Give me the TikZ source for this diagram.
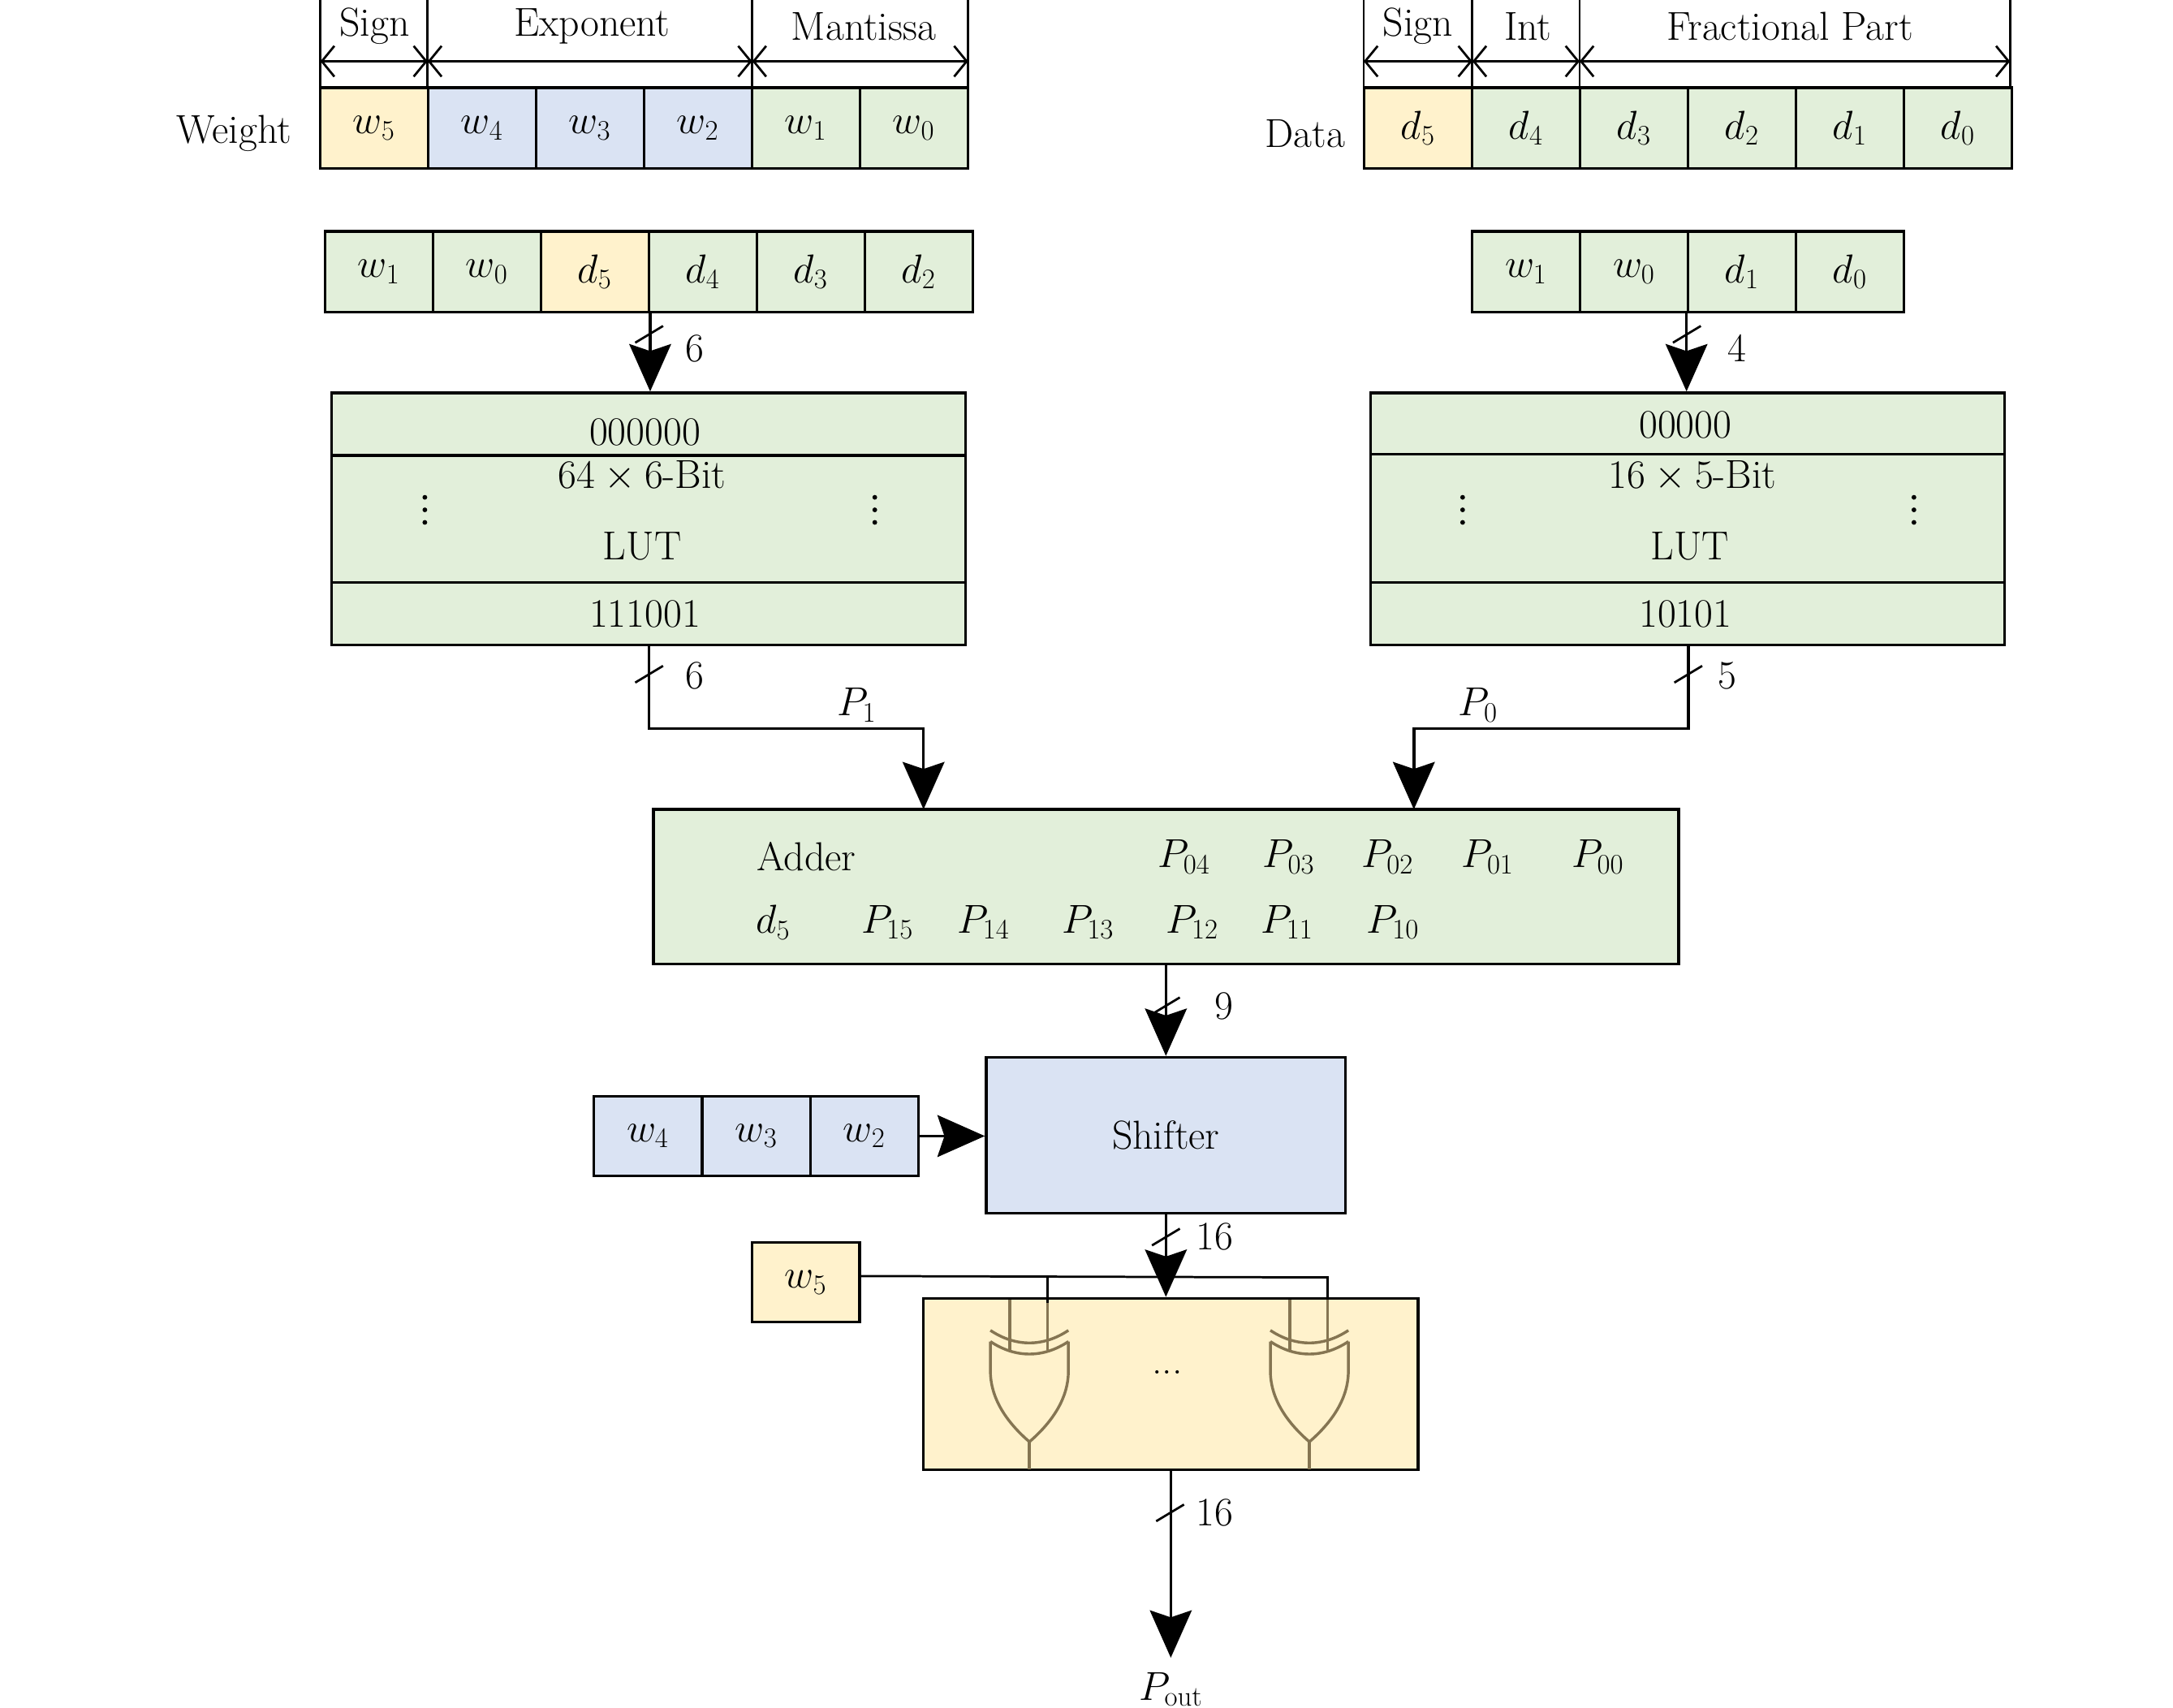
\documentclass[tikz,border=0pt]{standalone}
\usepackage{fix-cm}
\usetikzlibrary{arrows.meta}
\definecolor{cy}{HTML}{FFF2CC}
\definecolor{cb}{HTML}{DAE3F3}
\definecolor{cg}{HTML}{E2EFDA}
\definecolor{gate}{HTML}{857552}
\begin{document}
\begin{tikzpicture}[x=1pt,y=-1pt,
  every node/.style={font=\fontsize{29}{34}\selectfont},
  cell/.style={draw,line width=2pt,minimum height=58pt,minimum width=77.5pt,inner sep=0pt},
  box/.style={draw,line width=2pt,inner sep=0pt},
  big/.style={line width=2pt,-{Stealth[length=34pt,width=30pt,inset=5pt]}},
  dim/.style={line width=1.6pt,{Straight Barb[length=9pt,width=22pt]}-{Straight Barb[length=9pt,width=22pt]}},
  sl/.style={line width=1.6pt},
  gl/.style={draw=gate,line width=2pt}]
\useasboundingbox (0,0) rectangle (1560,1226);
\newcommand{\vdts}[2]{\foreach \dy in {-9,0,9}{\fill (#1,#2+\dy) circle (1.7pt);}}
% ---------- weight word
\node[cell,fill=cy] (w5) at (268.5,92) {$w_5$};
\node[cell,fill=cb] (w4) at (346,92) {$w_4$};
\node[cell,fill=cb] (w3) at (423.5,92) {$w_3$};
\node[cell,fill=cb] (w2) at (501,92) {$w_2$};
\node[cell,fill=cg] (w1) at (578.5,92) {$w_1$};
\node[cell,fill=cg] (w0) at (656,92) {$w_0$};
\node (wl) at (168,96) {Weight};
\foreach \x/\n in {230/a,307/b,540/c,695/d}{\draw[line width=1.6pt] (\x,63) -- (\x,0); \coordinate (h\n) at (\x,44);}
\draw[dim] (ha) -- (hb); \draw[dim] (hb) -- (hc); \draw[dim] (hc) -- (hd);
\node (ts) at (269,19) {Sign};
\node (te) at (425,19) {Exponent};
\node (tm) at (620,19) {Mantissa};
% ---------- data word
\node[cell,fill=cy] (d5) at (1018,92) {$d_5$};
\node[cell,fill=cg] (d4) at (1095.5,92) {$d_4$};
\node[cell,fill=cg] (d3) at (1173,92) {$d_3$};
\node[cell,fill=cg] (d2) at (1250.5,92) {$d_2$};
\node[cell,fill=cg] (d1) at (1328,92) {$d_1$};
\node[cell,fill=cg] (d0) at (1405.5,92) {$d_0$};
\node (dl) at (937,96) {Data};
\foreach \x/\n in {979/a,1057/b,1134/c,1443/d}{\draw[line width=1.6pt] (\x,63) -- (\x,0); \coordinate (k\n) at (\x,44);}
\draw[dim] (ka) -- (kb); \draw[dim] (kb) -- (kc); \draw[dim] (kc) -- (kd);
\node (us) at (1018,19) {Sign};
\node (ui) at (1097,19) {Int};
\node (uf) at (1285,19) {Fractional Part};
% ---------- left address
\node[cell,fill=cg] (a1) at (272,195) {$w_1$};
\node[cell,fill=cg] (a2) at (349.5,195) {$w_0$};
\node[cell,fill=cy] (a3) at (427,195) {$d_5$};
\node[cell,fill=cg] (a4) at (504.5,195) {$d_4$};
\node[cell,fill=cg] (a5) at (582,195) {$d_3$};
\node[cell,fill=cg] (a6) at (659.5,195) {$d_2$};
% ---------- right address
\node[cell,fill=cg] (b1) at (1095.5,195) {$w_1$};
\node[cell,fill=cg] (b2) at (1173,195) {$w_0$};
\node[cell,fill=cg] (b3) at (1250.5,195) {$d_1$};
\node[cell,fill=cg] (b4) at (1328,195) {$d_0$};
% ---------- LUTs
\node[box,fill=cg,minimum width=455pt,minimum height=181pt] (lutL) at (465.5,372.5) {};
\draw[line width=2pt] (238,327) -- (693,327) (238,418) -- (693,418);
\node at (463,310) {000000};
\node at (461,342) {$64\times6$-Bit};
\node at (461,392) {LUT};
\vdts{305}{366} \vdts{628}{366}
\node at (463,441) {111001};
\node[box,fill=cg,minimum width=455pt,minimum height=181pt] (lutR) at (1211.5,372.5) {};
\draw[line width=2pt] (984,326) -- (1439,326) (984,418) -- (1439,418);
\node at (1210,305) {00000};
\node at (1215,342) {$16\times5$-Bit};
\node at (1213,392) {LUT};
\vdts{1050}{366} \vdts{1374}{366}
\node at (1210,441) {10101};
\draw[big] (a3.south east) -- (a3.south east |- lutL.north);
\draw[sl] (456,246) -- (476,234); \node at (499,250) {6};
\draw[big] (b3.south west) -- (b3.south west |- lutR.north);
\draw[sl] (1201,246) -- (1221,234); \node at (1247,250) {4};
% ---------- adder
\node[box,fill=cg,minimum width=736pt,minimum height=111pt] (add) at (837,636.5) {};
\coordinate (cl) at (466,523); \coordinate (cr) at (1212,523);
\draw[big] (lutL.south) ++(0.5,0) -- (cl) -| (663,581);
\draw[big] (lutR.south) ++(0.5,0) -- (cr) -| (1015,581);
\draw[sl] (456,490) -- (476,478); \node at (499,485) {6};
\draw[sl] (1202,490) -- (1222,478); \node at (1240,485) {5};
\node at (615,506) {$P_1$};
\node at (1061,506) {$P_0$};
\node at (579,615) {Adder};
\foreach \x/\t in {850/04,925/03,996/02,1068/01,1147/00}{\node at (\x,615) {$P_{\t}$};}
\node at (555,662) {$d_5$};
\foreach \x/\t in {637/15,706/14,781/13,856/12,924/11,1000/10}{\node at (\x,662) {$P_{\t}$};}
% ---------- shifter
\node[box,fill=cb,minimum width=258pt,minimum height=112pt] (sh) at (837,815) {Shifter};
\draw[big] (add.south -| sh.north) -- (sh.north);
\draw[sl] (827,728) -- (847,716); \node at (879,722) {9};
\node[cell,fill=cb,minimum height=57pt] (e4) at (465,815.5) {$w_4$};
\node[cell,fill=cb,minimum height=57pt] (e3) at (543,815.5) {$w_3$};
\node[cell,fill=cb,minimum height=57pt] (e2) at (620.5,815.5) {$w_2$};
\draw[big] (e2.east) -- (sh.west |- e2.east);
% ---------- xor block
\node[box,fill=cy,minimum width=355pt,minimum height=123pt] (xr) at (840.5,993.5) {};
\node[cell,fill=cy,minimum height=57pt,minimum width=77pt] (s5) at (578.5,920.5) {$w_5$};
\draw[line width=1.6pt] (s5.east |- 0,916) -- (953,917) -- (953,944);
\draw[line width=1.6pt] (752,917) -- (752,932);
\draw[big] (sh.south) -- (sh.south |- xr.north);
\draw[sl] (827,894) -- (847,882); \node at (872,888) {16};
\node at (838,985) {...};
\foreach \gx in {739,940}{
  \draw[gl] (\gx-28,963) .. controls (\gx-10,975) and (\gx+10,975) .. (\gx+28,963);
  \draw[gl] (\gx-28,955) .. controls (\gx-10,967) and (\gx+10,967) .. (\gx+28,955);
  \draw[gl] (\gx-28,963) -- (\gx-28,984) .. controls (\gx-28,1005) and (\gx-15,1022) .. (\gx,1035)
            .. controls (\gx+15,1022) and (\gx+28,1005) .. (\gx+28,984) -- (\gx+28,963);
  \draw[gl] (\gx,1035) -- (\gx,1055);
  \draw[gl] (\gx-14,933) -- (\gx-14,969);
  \draw[gl] (\gx+13,933) -- (\gx+13,969);
}
\draw[line width=1.6pt] (752,932) -- (752,935);
% ---------- output
\coordinate (po) at (840.5,1190);
\draw[big] (xr.south) -- (po);
\draw[sl] (830,1092) -- (850,1080); \node at (872,1086) {16};
\node[anchor=north] (pout) at (840.5,1197) {$P_{\mathrm{out}}$};
\end{tikzpicture}
\end{document}
